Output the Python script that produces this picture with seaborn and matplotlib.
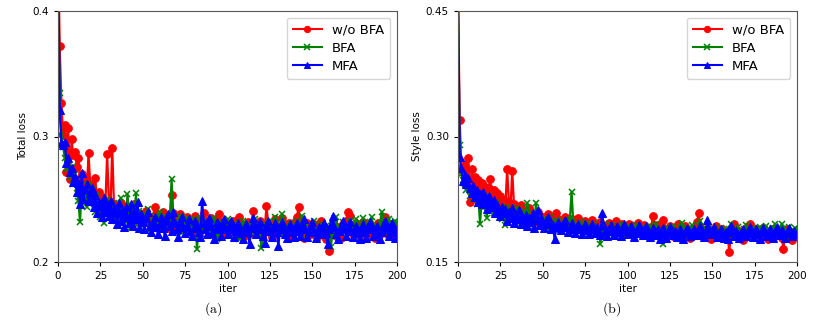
import numpy as np
import matplotlib
matplotlib.use("Agg")
import matplotlib.pyplot as plt
import seaborn as sns

iters = list(range(201))

# Total loss
total_wo_bfa = [
    0.452, 0.372, 0.327, 0.301, 0.309, 0.272, 0.307, 0.266, 0.298, 0.285,
    0.288, 0.276, 0.283, 0.266, 0.270, 0.258, 0.266, 0.255, 0.287, 0.262,
    0.258, 0.250, 0.267, 0.248, 0.256, 0.246, 0.252, 0.243, 0.248, 0.286,
    0.249, 0.244, 0.291, 0.246, 0.240, 0.244, 0.238, 0.247, 0.242, 0.236,
    0.241, 0.245, 0.238, 0.233, 0.240, 0.246, 0.237, 0.232, 0.239, 0.235,
    0.236, 0.232, 0.241, 0.237, 0.230, 0.228, 0.235, 0.244, 0.238, 0.232,
    0.229, 0.234, 0.240, 0.236, 0.231, 0.227, 0.233, 0.253, 0.239, 0.232,
    0.228, 0.235, 0.238, 0.231, 0.226, 0.229, 0.236, 0.233, 0.227, 0.224,
    0.231, 0.237, 0.234, 0.228, 0.225, 0.230, 0.239, 0.233, 0.227, 0.231,
    0.235, 0.229, 0.224, 0.228, 0.234, 0.238, 0.232, 0.226, 0.223, 0.229,
    0.228, 0.224, 0.231, 0.233, 0.226, 0.222, 0.229, 0.236, 0.230, 0.225,
    0.221, 0.226, 0.232, 0.228, 0.223, 0.241, 0.230, 0.224, 0.227, 0.233,
    0.229, 0.222, 0.226, 0.245, 0.231, 0.225, 0.220, 0.227, 0.234, 0.229,
    0.224, 0.228, 0.235, 0.230, 0.222, 0.225, 0.231, 0.227, 0.221, 0.226,
    0.232, 0.236, 0.244, 0.229, 0.223, 0.219, 0.226, 0.231, 0.228, 0.222,
    0.225, 0.230, 0.226, 0.220, 0.224, 0.233, 0.229, 0.223, 0.218, 0.225,
    0.209, 0.227, 0.232, 0.226, 0.221, 0.228, 0.224, 0.219, 0.230, 0.226,
    0.233, 0.240, 0.237, 0.227, 0.222, 0.226, 0.231, 0.225, 0.220, 0.228,
    0.232, 0.226, 0.221, 0.224, 0.230, 0.227, 0.222, 0.219, 0.226, 0.231,
    0.227, 0.223, 0.229, 0.236, 0.228, 0.221, 0.225, 0.230, 0.224, 0.219,
    0.226,
]
total_bfa = [
    0.440, 0.335, 0.301, 0.292, 0.283, 0.274, 0.280, 0.268, 0.276, 0.262,
    0.270, 0.255, 0.249, 0.232, 0.261, 0.247, 0.256, 0.244, 0.262, 0.251,
    0.258, 0.246, 0.240, 0.253, 0.245, 0.236, 0.248, 0.231, 0.241, 0.250,
    0.238, 0.244, 0.235, 0.247, 0.233, 0.242, 0.229, 0.251, 0.237, 0.243,
    0.232, 0.254, 0.236, 0.228, 0.245, 0.233, 0.255, 0.230, 0.241, 0.236,
    0.229, 0.238, 0.234, 0.242, 0.231, 0.226, 0.233, 0.237, 0.228, 0.235,
    0.240, 0.233, 0.227, 0.231, 0.236, 0.229, 0.233, 0.266, 0.238, 0.230,
    0.226, 0.232, 0.237, 0.229, 0.224, 0.231, 0.235, 0.228, 0.233, 0.226,
    0.230, 0.234, 0.210, 0.229, 0.236, 0.231, 0.225, 0.228, 0.233, 0.227,
    0.222, 0.229, 0.235, 0.231, 0.218, 0.226, 0.232, 0.228, 0.224, 0.230,
    0.234, 0.229, 0.223, 0.226, 0.231, 0.227, 0.221, 0.218, 0.228, 0.233,
    0.227, 0.224, 0.230, 0.226, 0.222, 0.229, 0.234, 0.228, 0.223, 0.226,
    0.211, 0.225, 0.230, 0.227, 0.232, 0.226, 0.222, 0.229, 0.236, 0.231,
    0.226, 0.223, 0.238, 0.232, 0.225, 0.229, 0.224, 0.230, 0.227, 0.222,
    0.228, 0.233, 0.229, 0.224, 0.237, 0.231, 0.226, 0.222, 0.228, 0.225,
    0.229, 0.233, 0.226, 0.219, 0.224, 0.230, 0.227, 0.222, 0.229, 0.225,
    0.228, 0.212, 0.225, 0.231, 0.236, 0.228, 0.223, 0.226, 0.232, 0.227,
    0.224, 0.229, 0.233, 0.227, 0.231, 0.225, 0.234, 0.229, 0.224, 0.228,
    0.235, 0.230, 0.224, 0.227, 0.232, 0.236, 0.228, 0.223, 0.229, 0.225,
    0.231, 0.240, 0.227, 0.224, 0.229, 0.234, 0.226, 0.230, 0.225, 0.233,
    0.230,
]
total_mfa = [
    0.460, 0.321, 0.295, 0.293, 0.296, 0.279, 0.283, 0.272, 0.275, 0.264,
    0.268, 0.256, 0.263, 0.246, 0.271, 0.250, 0.258, 0.262, 0.249, 0.255,
    0.259, 0.244, 0.253, 0.239, 0.248, 0.245, 0.236, 0.251, 0.240, 0.246,
    0.237, 0.249, 0.234, 0.243, 0.239, 0.230, 0.247, 0.233, 0.241, 0.228,
    0.244, 0.236, 0.231, 0.246, 0.229, 0.240, 0.234, 0.248, 0.227, 0.238,
    0.232, 0.226, 0.235, 0.240, 0.229, 0.224, 0.231, 0.236, 0.228, 0.222,
    0.230, 0.236, 0.227, 0.221, 0.233, 0.238, 0.229, 0.225, 0.240, 0.231,
    0.226, 0.220, 0.232, 0.236, 0.228, 0.223, 0.229, 0.234, 0.225, 0.221,
    0.227, 0.233, 0.229, 0.224, 0.220, 0.249, 0.231, 0.226, 0.222, 0.235,
    0.229, 0.223, 0.218, 0.226, 0.232, 0.227, 0.221, 0.229, 0.234, 0.226,
    0.222, 0.228, 0.233, 0.226, 0.220, 0.225, 0.231, 0.227, 0.223, 0.218,
    0.225, 0.230, 0.224, 0.214, 0.227, 0.235, 0.229, 0.222, 0.226, 0.232,
    0.226, 0.221, 0.215, 0.228, 0.233, 0.225, 0.220, 0.227, 0.231, 0.224,
    0.213, 0.226, 0.232, 0.228, 0.222, 0.219, 0.226, 0.230, 0.224, 0.220,
    0.227, 0.231, 0.225, 0.221, 0.228, 0.234, 0.226, 0.220, 0.224, 0.229,
    0.232, 0.225, 0.219, 0.224, 0.228, 0.222, 0.227, 0.231, 0.223, 0.214,
    0.226, 0.230, 0.237, 0.228, 0.222, 0.218, 0.225, 0.229, 0.233, 0.226,
    0.221, 0.227, 0.232, 0.225, 0.220, 0.224, 0.229, 0.223, 0.218, 0.226,
    0.230, 0.224, 0.219, 0.227, 0.232, 0.226, 0.221, 0.225, 0.229, 0.222,
    0.218, 0.224, 0.229, 0.233, 0.226, 0.221, 0.227, 0.231, 0.224, 0.219,
    0.226,
]

# Style loss
style_wo_bfa = [
    0.470, 0.320, 0.262, 0.258, 0.266, 0.249, 0.274, 0.222, 0.261, 0.241,
    0.252, 0.236, 0.248, 0.228, 0.244, 0.233, 0.240, 0.226, 0.238, 0.249,
    0.227, 0.236, 0.221, 0.232, 0.217, 0.229, 0.214, 0.224, 0.219, 0.261,
    0.222, 0.215, 0.259, 0.219, 0.210, 0.214, 0.208, 0.218, 0.206, 0.211,
    0.204, 0.209, 0.214, 0.207, 0.201, 0.198, 0.205, 0.210, 0.203, 0.199,
    0.204, 0.196, 0.201, 0.207, 0.200, 0.194, 0.198, 0.205, 0.209, 0.201,
    0.197, 0.193, 0.200, 0.204, 0.198, 0.191, 0.195, 0.201, 0.196, 0.192,
    0.199, 0.203, 0.197, 0.190, 0.194, 0.199, 0.193, 0.188, 0.195, 0.200,
    0.196, 0.191, 0.187, 0.193, 0.198, 0.194, 0.189, 0.185, 0.192, 0.197,
    0.193, 0.188, 0.194, 0.199, 0.191, 0.186, 0.190, 0.195, 0.189, 0.184,
    0.191, 0.196, 0.190, 0.185, 0.188, 0.193, 0.197, 0.190, 0.184, 0.189,
    0.194, 0.188, 0.183, 0.187, 0.192, 0.205, 0.194, 0.186, 0.182, 0.189,
    0.195, 0.200, 0.189, 0.184, 0.188, 0.193, 0.187, 0.181, 0.186, 0.191,
    0.196, 0.190, 0.184, 0.188, 0.193, 0.187, 0.182, 0.179, 0.186, 0.191,
    0.188, 0.198, 0.208, 0.192, 0.185, 0.180, 0.186, 0.190, 0.184, 0.178,
    0.183, 0.189, 0.193, 0.186, 0.181, 0.185, 0.190, 0.184, 0.179, 0.186,
    0.162, 0.184, 0.191, 0.195, 0.188, 0.183, 0.187, 0.181, 0.176, 0.184,
    0.189, 0.193, 0.196, 0.187, 0.182, 0.185, 0.190, 0.184, 0.179, 0.186,
    0.191, 0.187, 0.182, 0.178, 0.185, 0.190, 0.186, 0.181, 0.184, 0.188,
    0.183, 0.179, 0.166, 0.184, 0.189, 0.185, 0.180, 0.176, 0.183, 0.187,
    0.184,
]
style_bfa = [
    0.455, 0.290, 0.255, 0.248, 0.243, 0.236, 0.244, 0.229, 0.238, 0.225,
    0.233, 0.219, 0.227, 0.196, 0.224, 0.215, 0.221, 0.203, 0.229, 0.212,
    0.218, 0.209, 0.214, 0.222, 0.207, 0.213, 0.201, 0.210, 0.194, 0.216,
    0.205, 0.211, 0.199, 0.208, 0.202, 0.215, 0.197, 0.206, 0.200, 0.211,
    0.196, 0.220, 0.203, 0.198, 0.207, 0.193, 0.221, 0.199, 0.204, 0.195,
    0.201, 0.197, 0.192, 0.199, 0.204, 0.196, 0.190, 0.195, 0.200, 0.193,
    0.188, 0.194, 0.199, 0.195, 0.190, 0.196, 0.201, 0.234, 0.198, 0.192,
    0.188, 0.194, 0.198, 0.191, 0.186, 0.193, 0.197, 0.190, 0.185, 0.192,
    0.196, 0.190, 0.186, 0.192, 0.172, 0.189, 0.195, 0.191, 0.186, 0.190,
    0.194, 0.188, 0.183, 0.189, 0.193, 0.187, 0.191, 0.196, 0.189, 0.184,
    0.188, 0.193, 0.187, 0.182, 0.189, 0.194, 0.190, 0.185, 0.188, 0.192,
    0.186, 0.181, 0.187, 0.193, 0.188, 0.184, 0.190, 0.195, 0.187, 0.183,
    0.189, 0.172, 0.185, 0.191, 0.187, 0.182, 0.188, 0.193, 0.186, 0.181,
    0.187, 0.192, 0.197, 0.189, 0.184, 0.188, 0.183, 0.190, 0.194, 0.186,
    0.182, 0.188, 0.193, 0.199, 0.190, 0.185, 0.181, 0.187, 0.192, 0.186,
    0.183, 0.189, 0.185, 0.180, 0.186, 0.191, 0.187, 0.182, 0.188, 0.184,
    0.190, 0.196, 0.188, 0.183, 0.187, 0.192, 0.186, 0.181, 0.185, 0.190,
    0.194, 0.187, 0.182, 0.186, 0.191, 0.185, 0.180, 0.187, 0.192, 0.188,
    0.183, 0.187, 0.193, 0.188, 0.182, 0.186, 0.191, 0.195, 0.187, 0.183,
    0.188, 0.196, 0.190, 0.184, 0.187, 0.192, 0.186, 0.181, 0.187, 0.191,
    0.186,
]
style_mfa = [
    0.480, 0.275, 0.262, 0.247, 0.254, 0.243, 0.250, 0.238, 0.233, 0.241,
    0.228, 0.236, 0.222, 0.231, 0.219, 0.234, 0.226, 0.213, 0.229, 0.220,
    0.216, 0.224, 0.209, 0.218, 0.212, 0.205, 0.216, 0.208, 0.213, 0.199,
    0.210, 0.203, 0.214, 0.197, 0.207, 0.201, 0.212, 0.195, 0.204, 0.199,
    0.206, 0.193, 0.203, 0.198, 0.209, 0.191, 0.200, 0.212, 0.194, 0.202,
    0.196, 0.191, 0.199, 0.204, 0.195, 0.189, 0.194, 0.177, 0.192, 0.198,
    0.193, 0.188, 0.195, 0.200, 0.192, 0.186, 0.191, 0.197, 0.190, 0.185,
    0.192, 0.196, 0.189, 0.184, 0.190, 0.195, 0.188, 0.183, 0.191, 0.196,
    0.189, 0.185, 0.192, 0.187, 0.182, 0.209, 0.193, 0.186, 0.181, 0.190,
    0.194, 0.187, 0.182, 0.188, 0.193, 0.186, 0.181, 0.189, 0.195, 0.187,
    0.183, 0.188, 0.193, 0.186, 0.180, 0.185, 0.190, 0.194, 0.187, 0.182,
    0.188, 0.193, 0.186, 0.180, 0.185, 0.191, 0.187, 0.182, 0.189, 0.178,
    0.186, 0.191, 0.184, 0.179, 0.186, 0.192, 0.188, 0.182, 0.187, 0.180,
    0.185, 0.190, 0.184, 0.178, 0.186, 0.191, 0.187, 0.181, 0.185, 0.190,
    0.186, 0.182, 0.188, 0.193, 0.186, 0.180, 0.185, 0.200, 0.189, 0.183,
    0.187, 0.192, 0.185, 0.180, 0.184, 0.189, 0.185, 0.179, 0.186, 0.177,
    0.190, 0.193, 0.186, 0.181, 0.187, 0.184, 0.179, 0.185, 0.190, 0.186,
    0.181, 0.187, 0.192, 0.185, 0.180, 0.184, 0.189, 0.183, 0.178, 0.186,
    0.191, 0.186, 0.181, 0.185, 0.190, 0.184, 0.179, 0.186, 0.192, 0.187,
    0.182, 0.188, 0.184, 0.179, 0.185, 0.191, 0.186, 0.181, 0.187, 0.183,
    0.183,
]

xticks = [0, 25, 50, 75, 100, 125, 150, 175, 200]

plt.rcParams['mathtext.fontset'] = 'cm'
plt.rcParams['font.family'] = ['DejaVu Sans']

fig = plt.figure(figsize=(8.3, 3.21), dpi=100)
W, H = 830, 321
ax1 = fig.add_axes([58 / W, 1 - 262 / H, 339 / W, 251 / H])
ax2 = fig.add_axes([458 / W, 1 - 262 / H, 339 / W, 251 / H])


def draw(ax, red, green, blue, ylim, yticks, ylabel):
    sns.lineplot(x=iters, y=red, ax=ax, color='red', marker='o', markersize=5.5,
                 markeredgecolor='red', linewidth=1.6, label='w/o BFA')
    sns.lineplot(x=iters, y=green, ax=ax, color='green', marker='x', markersize=4.5,
                 markeredgecolor='green', markeredgewidth=1.1, linewidth=1.6, label='BFA')
    sns.lineplot(x=iters, y=blue, ax=ax, color='blue', marker='^', markersize=6,
                 markeredgecolor='blue', linewidth=1.6, label='MFA')
    ax.set_xlim(0, 200)
    ax.set_ylim(*ylim)
    ax.set_xticks(xticks)
    ax.set_yticks(yticks)
    ax.tick_params(labelsize=7.5, length=3)
    ax.set_xlabel('iter', fontsize=7.5, labelpad=2)
    ax.set_ylabel(ylabel, fontsize=7.5, labelpad=3)
    for s in ax.spines.values():
        s.set_color('0.35')
    leg = ax.legend(loc='upper right', fontsize=9.5, handlelength=2.2, borderpad=0.45,
                    labelspacing=0.4, framealpha=0.8)
    for h in leg.get_lines():
        h.set_linewidth(1.5)
        h.set_markersize(4.5)


draw(ax1, total_wo_bfa, total_bfa, total_mfa, (0.2, 0.4), [0.2, 0.3, 0.4], 'Total loss')
draw(ax2, style_wo_bfa, style_bfa, style_mfa, (0.15, 0.45), [0.15, 0.30, 0.45], 'Style loss')
ax1.set_yticklabels(['0.2', '0.3', '0.4'])
ax2.set_yticklabels(['0.15', '0.30', '0.45'])

fig.text(213 / W, 1 - 309 / H, r'$\mathrm{(a)}$', ha='center', va='center', fontsize=10)
fig.text(612 / W, 1 - 309 / H, r'$\mathrm{(b)}$', ha='center', va='center', fontsize=10)

fig.savefig('out.png', dpi=100)
